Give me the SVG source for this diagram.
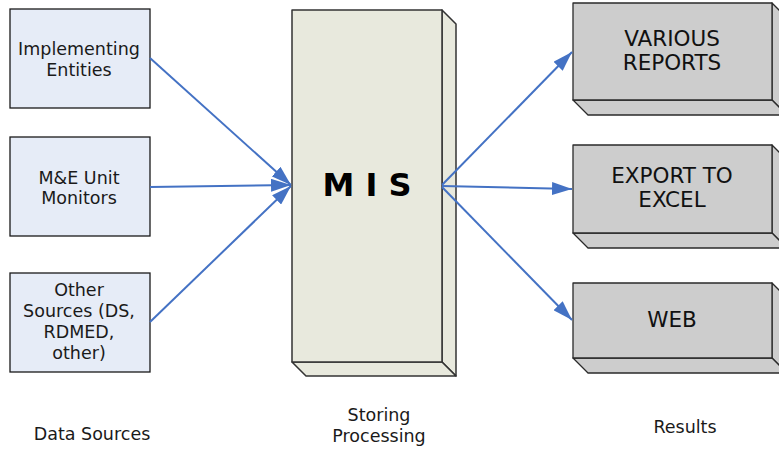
<svg xmlns="http://www.w3.org/2000/svg" width="779" height="452" viewBox="0 0 779 452">
  <style>
    .src { fill: #E6ECF7; stroke: #1a1a1a; stroke-width: 1.3; }
    .mis { fill: #E8E9DD; stroke: #333333; stroke-width: 1.5; stroke-linejoin: round; }
    .out { fill: #CDCDCD; stroke: #2a2a2a; stroke-width: 1.3; stroke-linejoin: round; }
    .t { font-family: "DejaVu Sans", Verdana, sans-serif; font-size: 17.5px; fill: #1a1a1a; text-anchor: middle; }
    .tb { font-family: "DejaVu Sans", Verdana, sans-serif; font-size: 21.5px; fill: #111111; text-anchor: middle; }
    .big { font-family: "DejaVu Sans", Verdana, sans-serif; font-size: 32px; font-weight: bold; fill: #000000; text-anchor: middle; }
    .link { stroke: #4472C4; stroke-width: 2; fill: none; marker-end: url(#arrow); }
  </style>
  <defs>
    <marker id="arrow" viewBox="0 0 10 6.5" refX="10" refY="3.25" markerWidth="10" markerHeight="6.5" orient="auto" markerUnits="strokeWidth">
      <path d="M0,0 L10,3.25 L0,6.5 z" fill="#4472C4"/>
    </marker>
  </defs>

  <rect width="779" height="452" fill="#ffffff"/>

  <!-- data sources -->
  <g id="implementing-entities">
    <rect class="src" x="10" y="9" width="140" height="99"/>
    <text class="t" x="79" y="55">Implementing</text>
    <text class="t" x="79" y="76">Entities</text>
  </g>
  <g id="me-unit">
    <rect class="src" x="10" y="137" width="140" height="99"/>
    <text class="t" x="79" y="184">M&amp;E Unit</text>
    <text class="t" x="79" y="204">Monitors</text>
  </g>
  <g id="other-sources">
    <rect class="src" x="10" y="273" width="140" height="99"/>
    <text class="t" x="79" y="296">Other</text>
    <text class="t" x="79" y="317">Sources (DS,</text>
    <text class="t" x="79" y="338">RDMED,</text>
    <text class="t" x="79" y="359">other)</text>
  </g>

  <!-- central MIS block -->
  <g id="mis">
    <path class="mis" d="M442,10 L456,24 L456,376 L442,362 Z"/>
    <path class="mis" d="M292,362 L442,362 L456,376 L306,376 Z"/>
    <rect class="mis" x="292" y="10" width="150" height="352"/>
    <text class="big" x="367" y="196">M I S</text>
  </g>

  <!-- results -->
  <g id="various-reports">
    <path class="out" d="M772,3 L787,18 L787,115 L772,100 Z"/>
    <path class="out" d="M573,100 L772,100 L787,115 L588,115 Z"/>
    <rect class="out" x="573" y="3" width="199" height="97"/>
    <text class="tb" x="672" y="46">VARIOUS</text>
    <text class="tb" x="672" y="70">REPORTS</text>
  </g>
  <g id="export-excel">
    <path class="out" d="M772,145 L787,160 L787,248 L772,233 Z"/>
    <path class="out" d="M573,233 L772,233 L787,248 L588,248 Z"/>
    <rect class="out" x="573" y="145" width="199" height="88"/>
    <text class="tb" x="672" y="183">EXPORT TO</text>
    <text class="tb" x="672" y="207">EXCEL</text>
  </g>
  <g id="web">
    <path class="out" d="M772,283 L787,298 L787,373 L772,358 Z"/>
    <path class="out" d="M573,358 L772,358 L787,373 L588,373 Z"/>
    <rect class="out" x="573" y="283" width="199" height="75"/>
    <text class="tb" x="672" y="327">WEB</text>
  </g>

  <!-- connectors -->
  <g id="connectors">
    <line class="link" x1="150" y1="58" x2="291" y2="185"/>
    <line class="link" x1="150" y1="187" x2="291" y2="185"/>
    <line class="link" x1="150" y1="322" x2="291" y2="186"/>
    <line class="link" x1="442" y1="185" x2="572" y2="52"/>
    <line class="link" x1="442" y1="186" x2="572" y2="189"/>
    <line class="link" x1="442" y1="187" x2="572" y2="320"/>
  </g>

  <!-- column captions -->
  <g id="captions">
    <text class="t" x="92" y="440">Data Sources</text>
    <text class="t" x="379" y="421">Storing</text>
    <text class="t" x="379" y="442">Processing</text>
    <text class="t" x="685" y="433">Results</text>
  </g>
</svg>
